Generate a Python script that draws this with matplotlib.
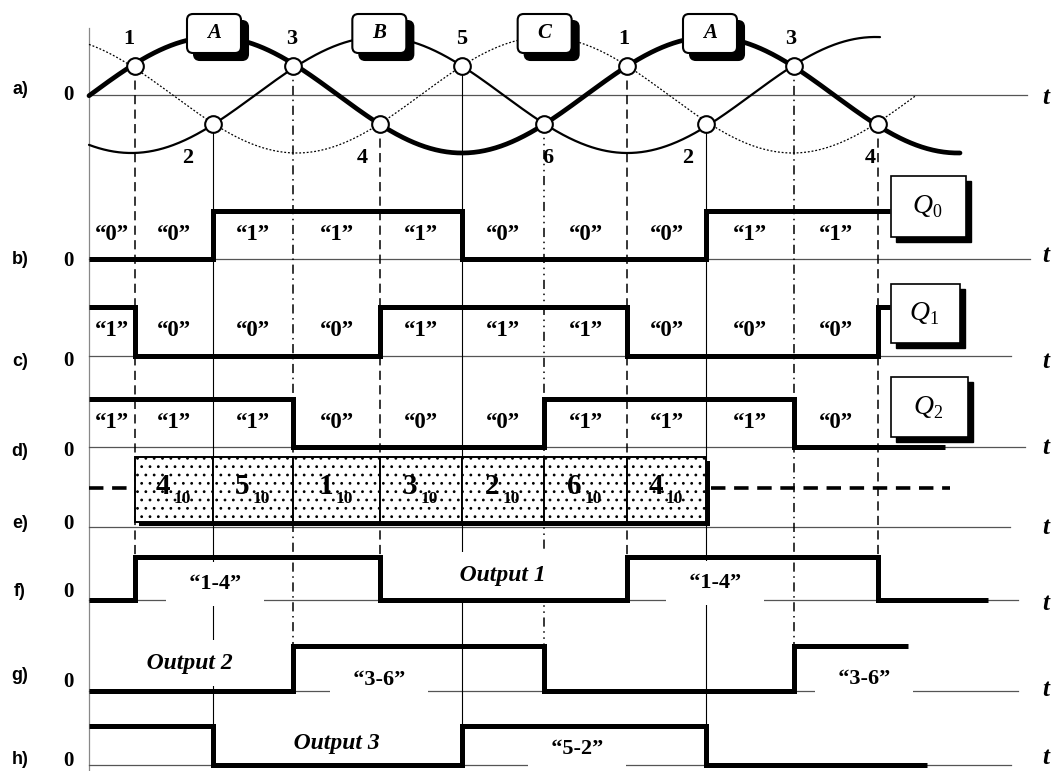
import numpy as np
import matplotlib.pyplot as plt
from matplotlib.patches import Rectangle, FancyBboxPatch

plt.rcParams['font.family'] = ['Liberation Serif', 'DejaVu Serif']
plt.rcParams['hatch.linewidth'] = 0.8

# ---------------- data ----------------
T_START = 89
cross_ids = [1, 2, 3, 4, 5, 6, 1, 2, 3, 4]
t_cross = [135, 213, 293, 380, 462, 544, 627, 706, 794, 878]
cross_upper = [True, False, True, False, True, False, True, False, True, False]

# three phase waves in a): period / zero of phase A, phase shifts, where each stops
wave_period = 496
wave_zero = 90
wave_shift = [0, -120, 120]          # A (thick), B (medium), C (dotted)
wave_end = [960, 880, 915]
box_names = ['A', 'B', 'C', 'A']
box_peaks = [90, 210, 330, 450]      # phase angle of the peak under each box

# trigger states per interval (interval i = between crossing i-1 and i)
q0_bits = [0, 0, 1, 1, 1, 0, 0, 0, 1, 1, 1]
q1_bits = [1, 0, 0, 0, 1, 1, 1, 0, 0, 0, 1]
q2_bits = [1, 1, 1, 0, 0, 0, 1, 1, 1, 0, 0]
q_end = [890, 890, 945]

codes = [4, 5, 1, 3, 2, 6, 4]        # decimal state shown in e)

out1 = [0, 1, 1, 1, 0, 0, 0, 1, 1, 1, 0]
out2 = [0, 0, 0, 1, 1, 1, 0, 0, 0, 1, 1]
out3 = [1, 1, 0, 0, 0, 1, 1, 1, 0, 0, 0]
out_end = [988, 908, 927]

# crossing -> output row it switches
drives = {1: 'f', 4: 'f', 3: 'g', 6: 'g', 2: 'h', 5: 'h'}

# ---------------- layout (pixels) ----------------
W, H = 1056, 771
A_Y0, A_AMP = 95, 58
base_y = {'a': 95, 'b': 259, 'c': 356, 'd': 447, 'e': 527, 'f': 600, 'g': 691, 'h': 765}
high_y = {'b': 211, 'c': 307, 'd': 399, 'f': 557, 'g': 646, 'h': 726}
axis_end = {'a': 1027, 'b': 1030, 'c': 1011, 'd': 1025, 'e': 1010, 'f': 1018, 'g': 1018, 'h': 1011}
letter_y = {'a': 90, 'b': 259, 'c': 361, 'd': 451, 'e': 523, 'f': 592, 'g': 675, 'h': 759}
zero_y = {'a': 95, 'b': 261, 'c': 361, 'd': 451, 'e': 524, 'f': 592, 'g': 682, 'h': 761}
t_y = {'a': 98, 'b': 256, 'c': 361, 'd': 448, 'e': 528, 'f': 603, 'g': 689, 'h': 758}
num_dx = [-6, -25, -1, -18, 0, 4, -3, -18, -3, -8]

styles = {1: (6, 3.5), 4: (6, 3.5), 2: None, 5: None,
          3: (6, 3, 1, 3), 6: (6, 3, 1, 3, 1, 3)}

fig = plt.figure(figsize=(10.56, 7.71), dpi=100)
ax = fig.add_axes([0, 0, 1, 1])
ax.set_xlim(0, W)
ax.set_ylim(H, 0)
ax.axis('off')

# axis lines
ax.plot([T_START, T_START], [28, H], color='#888888', lw=0.9, zorder=1)
for r, y in base_y.items():
    ax.plot([T_START, axis_end[r]], [y, y], color='#555555', lw=0.9, zorder=1)
    ax.text(20, letter_y[r], r + ')', family='Liberation Sans', fontweight='bold',
            fontsize=13, ha='center', va='center')
    ax.text(68, zero_y[r], '0', fontweight='bold', fontsize=15, ha='center', va='center')
    ax.text(1046, t_y[r], 't', fontweight='bold', fontstyle='italic', fontsize=18,
            ha='center', va='center')

# a) three phase waves
def wave_y(x, shift):
    th = np.radians((x - wave_zero) / wave_period * 360 + shift)
    return A_Y0 - A_AMP * np.sin(th)

wave_kw = [dict(lw=3.4), dict(lw=1.6), dict(lw=0.9, ls=(0, (1.5, 1.5)))]
for shift, end, kw in zip(wave_shift, wave_end, wave_kw):
    xs = np.linspace(T_START, end, 800)
    ax.plot(xs, wave_y(xs, shift), color='black', zorder=2, solid_capstyle='round', **kw)

cross_y = [A_Y0 - A_AMP * 0.5 if up else A_Y0 + A_AMP * 0.5 for up in cross_upper]
ax.plot(t_cross, cross_y, 'o', ms=12, mfc='white', mec='black', mew=1.5, zorder=6, ls='none')
for x, y, cid, up, dx in zip(t_cross, cross_y, cross_ids, cross_upper, num_dx):
    ty = y - 27 if up else y + 34
    ax.text(x + dx, ty, str(cid), fontweight='bold', fontsize=16, ha='center', va='center')
    # connecting line down to the output it switches
    row = drives[cid]
    d = styles[cid]
    kw = dict(color='black', lw=1.1 if d else 0.8, zorder=1.5)
    if d:
        kw['dashes'] = d
    ax.plot([x, x], [y, high_y[row]], **kw)

for name, peak in zip(box_names, box_peaks):
    cx = wave_zero + peak / 360 * wave_period
    for off, fc in [(7, 'black'), (0, 'white')]:
        ax.add_patch(FancyBboxPatch((cx - 27 + off, 14 + off), 54, 39,
                                    boxstyle='round,pad=0,rounding_size=6',
                                    fc=fc, ec='black', lw=1.5, zorder=6))
    ax.text(cx, 33, name, fontweight='bold', fontstyle='italic', fontsize=15,
            ha='center', va='center', zorder=7)

# b) c) d) trigger outputs
def draw_signal(levels, end, row):
    edges = [T_START] + t_cross[:len(levels) - 1] + [end]
    y0, y1 = base_y[row], high_y[row]
    ys = [y0 - lv * (y0 - y1) for lv in levels]
    ax.step(edges, ys + ys[-1:], where='post', color='black', lw=3.6, zorder=4,
            solid_joinstyle='miter', solid_capstyle='butt')
    return edges

q_rows = ['b', 'c', 'd']
q_box = [(891, 176, 75, 61), (891, 284, 69, 59), (891, 377, 77, 60)]
for i, (bits, end, row) in enumerate(zip([q0_bits, q1_bits, q2_bits], q_end, q_rows)):
    edges = draw_signal(bits, end, row)
    ymid = (base_y[row] + high_y[row]) / 2 - 1
    for k in range(10):
        ax.text((edges[k] + edges[k + 1]) / 2, ymid, '\u201c%d\u201d' % bits[k],
                fontweight='bold', fontsize=16.5, ha='center', va='center', zorder=3)
    bx, by, bw, bh = q_box[i]
    ax.add_patch(Rectangle((bx + 5, by + 5), bw, bh, fc='black', ec='black', zorder=6))
    ax.add_patch(Rectangle((bx, by), bw, bh, fc='white', ec='black', lw=1.2, zorder=6.1))
    cx, cy = bx + bw / 2, by + bh / 2
    ax.text(cx - 6, cy, 'Q', fontstyle='italic', fontsize=20, ha='center', va='center', zorder=7)
    ax.text(cx + 8, cy + 6, str(i), fontsize=13, ha='center', va='center', zorder=7)

# e) decimal state cells
e_top, e_bot = 457, 522
cell_edges = t_cross[:len(codes) + 1]
for k, code in enumerate(codes):
    x0, x1 = cell_edges[k], cell_edges[k + 1]
    ax.add_patch(Rectangle((x0 + 4, e_top + 4), x1 - x0, e_bot - e_top, fc='black', zorder=4.5))
for k, code in enumerate(codes):
    x0, x1 = cell_edges[k], cell_edges[k + 1]
    ax.add_patch(Rectangle((x0, e_top), x1 - x0, e_bot - e_top, fc='white', ec='black',
                           lw=1.4, hatch='..', zorder=5))
    cx = (x0 + x1) / 2
    ax.text(cx - 11, 487, str(code), fontweight='bold', fontsize=21, ha='center', va='center',
            zorder=6)
    ax.text(cx + 8, 499, '10', fontweight='bold', fontsize=12.5, ha='center', va='center', zorder=6)
e_mid = 488
dash_kw = dict(color='black', lw=2.6, dashes=(4, 2.4), zorder=4)
ax.plot([T_START, cell_edges[0] - 2], [e_mid, e_mid], **dash_kw)
ax.plot([cell_edges[-1] + 5, 950], [e_mid, e_mid], **dash_kw)

# f) g) h) outputs
for lv, end, row in zip([out1, out2, out3], out_end, ['f', 'g', 'h']):
    draw_signal(lv, end, row)

def boxed(x, y, s, size, italic_word=None):
    ax.text(x, y, s, fontweight='bold', fontsize=size, ha='center', va='center', zorder=3,
            fontstyle='italic' if italic_word else 'normal',
            bbox=dict(boxstyle='square,pad=0.55', fc='white', ec='none'))

boxed(215, 584, '  \u201c1-4\u201d  ', 16)
boxed(715, 583, '  \u201c1-4\u201d  ', 16)
boxed(503, 575, '   Output 1   ', 17, True)
boxed(190, 663, '   Output 2   ', 17, True)
boxed(379, 680, '  \u201c3-6\u201d  ', 16)
boxed(864, 679, '  \u201c3-6\u201d  ', 16)
boxed(337, 743, '   Output 3   ', 17, True)
boxed(577, 749, '  \u201c5-2\u201d  ', 16)

fig.savefig('out.png', dpi=100)
